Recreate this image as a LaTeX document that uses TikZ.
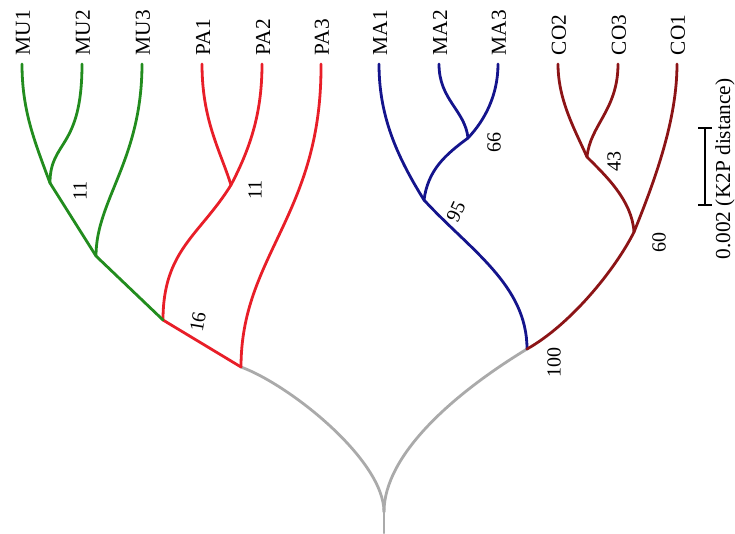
\documentclass[tikz,border=0pt]{standalone}
\usepackage{fontspec}
\setmainfont{Liberation Serif}
\definecolor{cMU}{RGB}{34,140,30}
\definecolor{cPA}{RGB}{232,30,40}
\definecolor{cMA}{RGB}{20,20,140}
\definecolor{cCO}{RGB}{140,20,22}
\definecolor{cRoot}{RGB}{170,170,170}
\tikzset{every picture/.style={line width=0.75pt}}
\tikzset{
  branch/.style={line width=2.1pt, line cap=round, line join=round},
  tiplabel/.style={rotate=90, anchor=west, inner sep=1pt, font=\fontsize{16}{19}\selectfont},
  bootlabel/.style={inner sep=0pt, font=\fontsize{15}{18}\selectfont}
}
\begin{document}
\begin{tikzpicture}[x=0.75pt,y=0.75pt,yscale=-1,xscale=1]
	\useasboundingbox (0,0) rectangle (735,533);

	% internal nodes
	\coordinate (root) at (384,512);
	\coordinate (rootbase) at (384,533);
	\coordinate (nodeA) at (241,367);
	\coordinate (nodeB) at (527,349);
	\coordinate (nodeMP) at (163,320);
	\coordinate (nodeMU) at (96,256);
	\coordinate (nodeMU12) at (50,183);
	\coordinate (nodePA12) at (231,185);
	\coordinate (nodeMA) at (424,200);
	\coordinate (nodeMA23) at (468,138);
	\coordinate (nodeCO) at (634,232);
	\coordinate (nodeCO23) at (587,157);
	% tips
	\coordinate (mu1) at (22,64);
	\coordinate (mu2) at (82,64);
	\coordinate (mu3) at (142,64);
	\coordinate (pa1) at (202,64);
	\coordinate (pa2) at (262,64);
	\coordinate (pa3) at (321,64);
	\coordinate (ma1) at (379,64);
	\coordinate (ma2) at (439,64);
	\coordinate (ma3) at (498,64);
	\coordinate (co2) at (558,64);
	\coordinate (co3) at (618,64);
	\coordinate (co1) at (677,64);

	%Root branches
	\draw [branch, cRoot] (rootbase) -- (root) ;
	\draw [branch, cRoot] (root) .. controls +(0,-52) and +(49,18) .. (nodeA) ;
	\draw [branch, cRoot] (root) .. controls +(0,-57) and +(-74,45) .. (nodeB) ;

	%MU + PA clade
	\draw [branch, cPA] (nodeA) -- (nodeMP) ;
	\draw [branch, cPA] (nodeA) .. controls +(0,-112) and +(1,151) .. (pa3) ;
	\draw [branch, cPA] (nodeMP) .. controls +(0,-70) and +(-31,50) .. (nodePA12) ;
	\draw [branch, cPA] (nodePA12) .. controls +(-11,-35) and +(0,56) .. (pa1) ;
	\draw [branch, cPA] (nodePA12) .. controls +(21,-40) and +(0,46) .. (pa2) ;
	\draw [branch, cMU] (nodeMP) -- (nodeMU) ;
	\draw [branch, cMU] (nodeMU) .. controls +(0,-56) and +(0,96) .. (mu3) ;
	\draw [branch, cMU] (nodeMU) -- (nodeMU12) ;
	\draw [branch, cMU] (nodeMU12) .. controls +(-16,-43) and +(0,46) .. (mu1) ;
	\draw [branch, cMU] (nodeMU12) .. controls +(0,-43) and +(0,86) .. (mu2) ;

	%MA + CO clade
	\draw [branch, cMA] (nodeB) .. controls +(0,-64) and +(46,50) .. (nodeMA) ;
	\draw [branch, cMA] (nodeMA) .. controls +(-28,-45) and +(0,51) .. (ma1) ;
	\draw [branch, cMA] (nodeMA) .. controls +(4,-30) and +(-23,17) .. (nodeMA23) ;
	\draw [branch, cMA] (nodeMA23) .. controls +(-3,-28) and +(0,36) .. (ma2) ;
	\draw [branch, cMA] (nodeMA23) .. controls +(17,-18) and +(0,31) .. (ma3) ;
	\draw [branch, cCO] (nodeB) .. controls +(43,-24) and +(-19,38) .. (nodeCO) ;
	\draw [branch, cCO] (nodeCO) .. controls +(21,-52) and +(0,56) .. (co1) ;
	\draw [branch, cCO] (nodeCO) .. controls +(-2,-32) and +(18,18) .. (nodeCO23) ;
	\draw [branch, cCO] (nodeCO23) .. controls +(-12,-27) and +(0,36) .. (co2) ;
	\draw [branch, cCO] (nodeCO23) .. controls +(3,-32) and +(0,46) .. (co3) ;

	% Text Node
	\node [tiplabel] (lMU1) at (23,57) {MU1};
	\node [tiplabel] (lMU2) at (83,57) {MU2};
	\node [tiplabel] (lMU3) at (143,57) {MU3};
	\node [tiplabel] (lPA1) at (203,57) {PA1};
	\node [tiplabel] (lPA2) at (263,57) {PA2};
	\node [tiplabel] (lPA3) at (322,57) {PA3};
	\node [tiplabel] (lMA1) at (380,57) {MA1};
	\node [tiplabel] (lMA2) at (440,57) {MA2};
	\node [tiplabel] (lMA3) at (499,57) {MA3};
	\node [tiplabel] (lCO2) at (559,57) {CO2};
	\node [tiplabel] (lCO3) at (619,57) {CO3};
	\node [tiplabel] (lCO1) at (678,57) {CO1};

	% Text Node
	\node [bootlabel, rotate=90] (bMU12) at (80,191) {11};
	\node [bootlabel, rotate=90] (bPA12) at (255,190) {11};
	\node [bootlabel, rotate=80] (bMP) at (198,322) {16};
	\node [bootlabel, rotate=65] (bMA) at (456,212) {95};
	\node [bootlabel, rotate=90] (bMA23) at (494,142) {66};
	\node [bootlabel, rotate=90] (bCO23) at (614,161) {43};
	\node [bootlabel, rotate=90] (bCO) at (659,242) {60};
	\node [bootlabel, rotate=90] (bB) at (554,362) {100};

	%Scale bar
	\coordinate (sbtop) at (705,128);
	\coordinate (sbbot) at (705,205);
	\draw [line width=1.2pt] (sbtop) -- (sbbot) ;
	\draw [line width=1.2pt] ([xshift=-5.25pt]sbtop) -- ([xshift=5.25pt]sbtop) ;
	\draw [line width=1.2pt] ([xshift=-5.25pt]sbbot) -- ([xshift=5.25pt]sbbot) ;
	\node [rotate=90, inner sep=0pt, font=\fontsize{16}{19}\selectfont] (sblabel) at (725,169) {0.002 (K2P distance)};

\end{tikzpicture}
\end{document}
